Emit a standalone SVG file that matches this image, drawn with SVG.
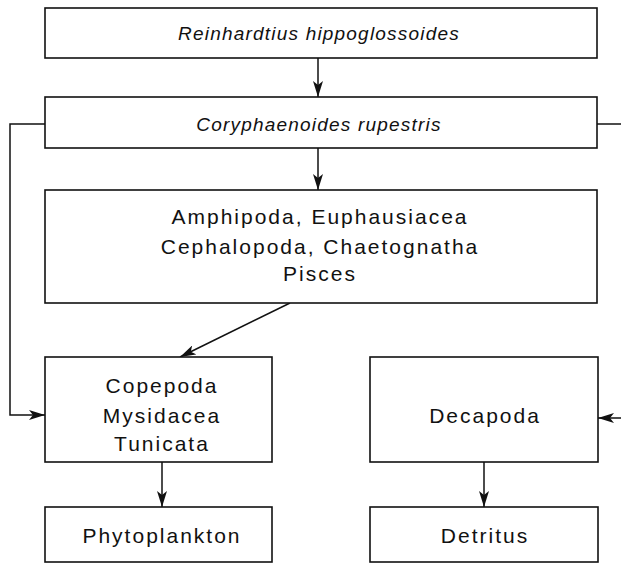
<svg xmlns="http://www.w3.org/2000/svg" width="621" height="563" viewBox="0 0 621 563">
<style>
.box{fill:#fff;stroke:#111;stroke-width:1.6}
.t{font-family:"Liberation Sans",Arial,sans-serif;font-size:21px;fill:#111;text-anchor:middle;letter-spacing:2px}
.i{font-style:italic;font-size:19px;letter-spacing:1.2px}
.c{fill:none;stroke:#111;stroke-width:1.5}
</style>
<defs>
<marker id="a" viewBox="0 0 16 10" refX="16" refY="5" markerWidth="16" markerHeight="10" markerUnits="userSpaceOnUse" orient="auto">
<path d="M0,0 L16,5 L0,10 L4,5 Z" fill="#111"/>
</marker>
</defs>
<rect width="621" height="563" fill="#fff"/>
<g id="connectors">
<line class="c" x1="318" y1="58" x2="318" y2="97" marker-end="url(#a)"/>
<line class="c" x1="318" y1="148" x2="318" y2="190" marker-end="url(#a)"/>
<line class="c" x1="290" y1="303" x2="180" y2="357" marker-end="url(#a)"/>
<polyline class="c" points="45,124 10,124 10,415 45,415" marker-end="url(#a)"/>
<polyline class="c" points="597,124 621,124"/>
<line class="c" x1="621" y1="418" x2="598" y2="418" marker-end="url(#a)"/>
<line class="c" x1="162" y1="462" x2="162" y2="507" marker-end="url(#a)"/>
<line class="c" x1="484" y1="462" x2="484" y2="507" marker-end="url(#a)"/>
</g>
<g id="reinhardtius">
<rect class="box" x="45" y="8" width="552" height="50"/>
<text class="t i" x="319" y="40">Reinhardtius hippoglossoides</text>
</g>
<g id="coryphaenoides">
<rect class="box" x="45" y="97" width="552" height="51"/>
<text class="t i" x="319" y="131">Coryphaenoides rupestris</text>
</g>
<g id="amphipoda">
<rect class="box" x="45" y="190" width="552" height="113"/>
<text class="t" x="320" y="224">Amphipoda, Euphausiacea</text>
<text class="t" x="320" y="254">Cephalopoda, Chaetognatha</text>
<text class="t" x="320" y="281">Pisces</text>
</g>
<g id="copepoda">
<rect class="box" x="45" y="357" width="227" height="105"/>
<text class="t" x="162" y="393">Copepoda</text>
<text class="t" x="162" y="423">Mysidacea</text>
<text class="t" x="162" y="451">Tunicata</text>
</g>
<g id="decapoda">
<rect class="box" x="370" y="357" width="228" height="105"/>
<text class="t" x="485" y="423">Decapoda</text>
</g>
<g id="phytoplankton">
<rect class="box" x="45" y="507" width="227" height="55"/>
<text class="t" x="162" y="543">Phytoplankton</text>
</g>
<g id="detritus">
<rect class="box" x="370" y="507" width="228" height="55"/>
<text class="t" x="485" y="543">Detritus</text>
</g>
</svg>
